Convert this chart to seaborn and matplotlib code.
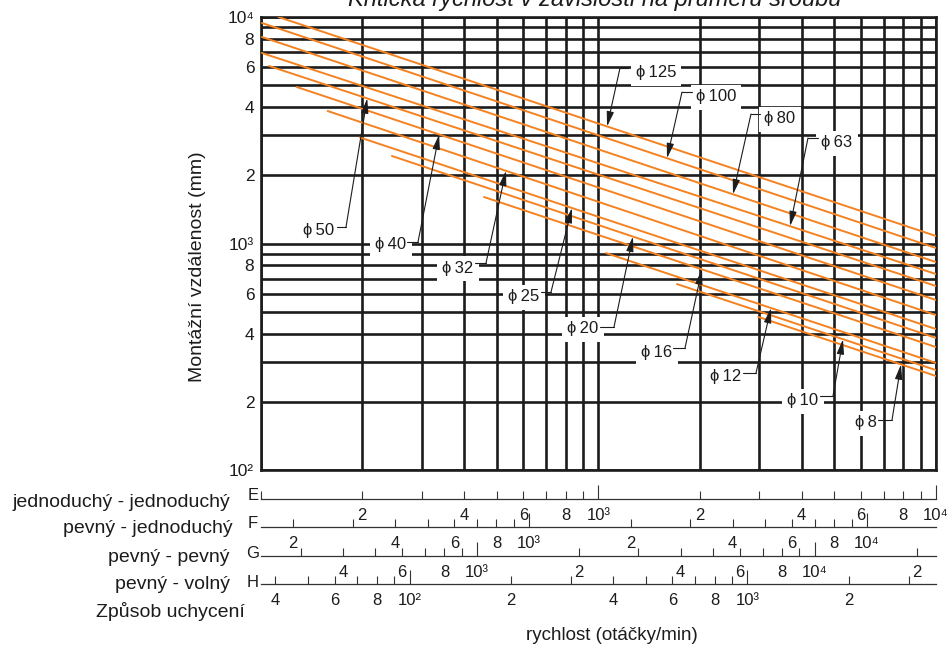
import numpy as np
import pandas as pd
import seaborn as sns
import matplotlib.pyplot as plt
from matplotlib.ticker import FixedLocator, LogLocator, NullFormatter, NullLocator

# critical speed lines: speed on the E scale (min^-1), mounting distance (mm)
diameters = ["125", "100", "80", "63", "50", "40", "32", "25", "20", "16", "12", "10", "8"]
speed_start = [113, 101, 101, 101, 106, 128, 158, 197, 245, 459, 1055, 1711, 2977]
length_start = [10000, 9408, 8160, 6934, 6077, 4909, 3846, 2938, 2434, 1604, 907, 662, 474]
speed_end = [10000] * 13
length_end = [1079, 955, 828, 733, 649, 563, 483, 419, 383, 349, 297, 276, 260]
# speed where each leader arrow touches its line
arrow_speed = [1062, 1598, 2506, 3697, 207, 338, 533, 836, 1267, 2029, 3247, 5304, 7877]

y_ticks = [100, 200, 400, 600, 800, 1000, 2000, 4000, 6000, 8000, 10000]
y_ticklabels = ["10²", "2", "4", "6", "8", "10³", "2", "4", "6", "8", "10⁴"]

# mounting methods and their speed scales (factor relative to the E scale)
mount_names = ["jednoduchý - jednoduchý", "pevný - jednoduchý", "pevný - pevný", "pevný - volný"]
mount_letters = ["E", "F", "G", "H"]
mount_factor = [1.0, 1.601, 2.283, 0.3618]

ORANGE = "#f58220"
INK = "#1c1c1c"

sns.set_theme(style="white")
plt.rcParams["font.family"] = ["Liberation Sans", "DejaVu Sans"]
plt.rcParams["text.color"] = INK

W, H = 949, 647
L_PX, R_PX, T_PX, B_PX = 260.5, 936, 17, 470

fig = plt.figure(figsize=(W / 100, H / 100), dpi=100)
ax = fig.add_axes([L_PX / W, 1 - B_PX / H, (R_PX - L_PX) / W, (B_PX - T_PX) / H])


def frac(xp, yp):
    # pixel position in the picture -> axes fraction of the main chart
    return (xp - L_PX) / (R_PX - L_PX), (B_PX - yp) / (B_PX - T_PX)


lines = pd.DataFrame({
    "d": diameters * 2,
    "n": speed_start + speed_end,
    "L": length_start + length_end,
})
sns.lineplot(data=lines, x="n", y="L", units="d", estimator=None, sort=False,
             color=ORANGE, lw=1.4, ax=ax, zorder=3)

ax.set_xscale("log")
ax.set_yscale("log")
ax.set_xlim(100, 10000)
ax.set_ylim(100, 10000)
ax.set_xlabel("")
ax.set_ylabel("")

ax.xaxis.set_major_locator(LogLocator(base=10, subs=np.arange(1, 10)))
ax.xaxis.set_major_formatter(NullFormatter())
ax.xaxis.set_minor_locator(NullLocator())
ax.yaxis.set_major_locator(FixedLocator(y_ticks))
ax.set_yticklabels(y_ticklabels)
ax.yaxis.set_minor_locator(LogLocator(base=10, subs=np.arange(1, 10)))
ax.yaxis.set_minor_formatter(NullFormatter())
ax.set_axisbelow(True)
ax.grid(True, which="both", color=INK, lw=1.9)
ax.tick_params(which="both", length=0)
ax.tick_params(axis="y", pad=4.5, labelsize=12.5, labelcolor=INK)
for s in ax.spines.values():
    s.set_color(INK)
    s.set_linewidth(1.9)

# diameter labels with leaders: text centre, leader start, knee (pixels)
label_layout = [
    ((656, 73), (628, 68), (620, 68)),
    ((716, 97), (692, 92), (682, 92)),
    ((780, 119), (760, 114), (751, 114)),
    ((837, 143), (818, 138), (808, 138)),
    ((319, 230), (337, 227), (346, 227)),
    ((391, 245), (407, 242), (418, 242)),
    ((458, 268), (475, 263), (486, 263)),
    ((524, 297), (541, 292), (551, 292)),
    ((583, 329), (600, 327), (614, 327)),
    ((657, 353), (673, 348), (685, 348)),
    ((726, 377), (743, 373), (756, 373)),
    ((803, 401), (820, 396), (833, 396)),
    ((866, 423), (878, 420), (892, 420)),
]
for i, d in enumerate(diameters):
    (tx, ty), a, k = label_layout[i]
    n0, n1 = np.log10(speed_start[i]), np.log10(speed_end[i])
    l0, l1 = np.log10(length_start[i]), np.log10(length_end[i])
    tip_n = arrow_speed[i]
    tip_l = 10 ** np.interp(np.log10(tip_n), [n0, n1], [l0, l1])
    ax.text(*frac(tx, ty), "ϕ\u2009" + d, transform=ax.transAxes, ha="center", va="center",
            fontsize=12, zorder=6,
            bbox=dict(facecolor="white", edgecolor="none", boxstyle="square,pad=0.3"))
    ax.plot(*zip(frac(*a), frac(*k)), transform=ax.transAxes, color=INK, lw=0.8, zorder=7)
    ax.annotate("", xy=(tip_n, tip_l), xycoords="data", xytext=frac(*k), textcoords="axes fraction",
                arrowprops=dict(arrowstyle="-|>,head_length=0.9,head_width=0.22", color=INK,
                                lw=0.8, shrinkA=0, shrinkB=0, mutation_scale=10), zorder=7)


def scale_label(v):
    e = int(round(np.log10(v)))
    if np.isclose(v, 10 ** e):
        return "10" + "⁰¹²³⁴⁵"[e]
    return str(int(round(v / 10 ** np.floor(np.log10(v)))))


# speed scales for the four mounting methods
scale_y = [499, 527, 556, 584]
name_base = [507, 533, 562, 589]
name_right = [230, 233, 230, 230]
letter_base = [500, 528, 558, 587]
for i, f in enumerate(mount_factor):
    lo, hi = 100 * f, 10000 * f
    sax = fig.add_axes([L_PX / W, 1 - scale_y[i] / H, (R_PX - L_PX) / W, 1e-4])
    sax.set_xscale("log")
    sax.set_xlim(lo, hi)
    sax.patch.set_visible(False)
    sax.yaxis.set_visible(False)
    for side in ["top", "left", "right"]:
        sax.spines[side].set_visible(False)
    sax.spines["bottom"].set_color("#333333")
    sax.spines["bottom"].set_linewidth(0.9)
    all_ticks = [m * 10 ** e for e in range(1, 6) for m in range(1, 10)]
    all_ticks = [t for t in all_ticks if lo * 0.999 <= t <= hi * 1.001]
    labelled = [t for t in all_ticks if scale_label(t) in ("2", "4", "6", "8") or scale_label(t).startswith("10")]
    if i == 0:
        labelled = [t for t in labelled if t > 100]
    minor = [t for t in all_ticks if t not in labelled]
    sax.xaxis.set_major_locator(FixedLocator(labelled))
    sax.set_xticklabels([scale_label(t) for t in labelled])
    sax.xaxis.set_minor_locator(FixedLocator(minor))
    sax.xaxis.set_minor_formatter(NullFormatter())
    sax.tick_params(which="both", bottom=True, direction="in", length=5.8, width=0.8,
                    color="#333333", labelsize=12, pad=6.5, labelcolor=INK)
    for t, tick in zip(labelled, sax.xaxis.get_major_ticks(len(labelled))):
        if scale_label(t).startswith("10"):
            tick.tick1line.set_markersize(10)
    fig.text(name_right[i] / W, 1 - name_base[i] / H, mount_names[i], ha="right", va="baseline",
             fontsize=14)
    fig.text(253 / W, 1 - letter_base[i] / H, mount_letters[i], ha="center", va="baseline",
             fontsize=12)

fig.text(245 / W, 1 - 617 / H, "Způsob uchycení", ha="right", va="baseline", fontsize=14)
fig.text(612 / W, 1 - 635 / H, "rychlost (otáčky/min)", ha="center", va="center", fontsize=13.5)
fig.text(197 / W, 1 - 267 / H, "Montážní vzdálenost (mm)", rotation=90, ha="center", va="center",
         fontsize=14)
fig.text(595 / W, 1 - 6 / H, "Kritická rychlost v závislosti na průměru šroubu", ha="center",
         va="baseline", fontsize=17, style="italic")

fig.savefig("out.png", dpi=100)
